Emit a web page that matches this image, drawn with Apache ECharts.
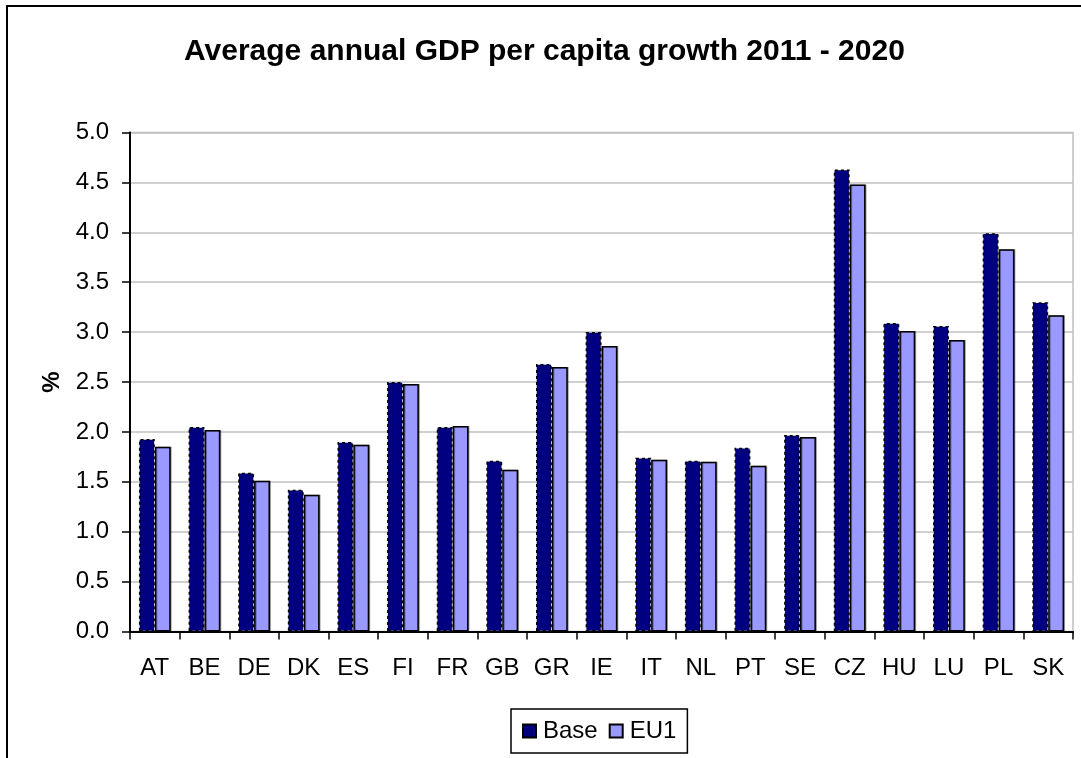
<!DOCTYPE html>
<html>
<head>
<meta charset="utf-8">
<title>Average annual GDP per capita growth 2011 - 2020</title>
<script src="https://cdn.jsdelivr.net/npm/echarts@6/dist/echarts.min.js"></script>
<style>
  html, body { margin: 0; padding: 0; background: #fff; }
  #chart { width: 1081px; height: 758px; }
</style>
</head>
<body>
<div id="chart"></div>
<script>
// Country codes along the category axis
const countries = ['AT', 'BE', 'DE', 'DK', 'ES', 'FI', 'FR', 'GB', 'GR', 'IE',
                   'IT', 'NL', 'PT', 'SE', 'CZ', 'HU', 'LU', 'PL', 'SK'];

// Average annual GDP per capita growth, % (2011-2020)
const baseValues = [1.93, 2.05, 1.59, 1.42, 1.90, 2.50, 2.05, 1.71, 2.68, 3.00,
                    1.74, 1.71, 1.84, 1.97, 4.63, 3.09, 3.06, 3.99, 3.30];
const eu1Values  = [1.85, 2.02, 1.51, 1.37, 1.87, 2.48, 2.06, 1.62, 2.65, 2.86,
                    1.72, 1.70, 1.66, 1.95, 4.48, 3.01, 2.92, 3.83, 3.17];

const FONT = '"Liberation Sans", Arial, sans-serif';

const chart = echarts.init(document.getElementById('chart'), null, { renderer: 'canvas' });

chart.setOption({
  animation: false,
  backgroundColor: '#ffffff',
  title: {
    text: 'Average annual GDP per capita growth 2011 - 2020',
    left: 184,
    top: 37,
    padding: 0,
    textStyle: { fontFamily: FONT, fontSize: 30, fontWeight: 'bold', color: '#000' }
  },
  legend: {
    data: ['Base', 'EU1'],
    left: 511,
    top: 709,
    padding: [10, 11, 10, 11],
    itemWidth: 13,
    itemHeight: 13,
    itemGap: 11,
    icon: 'rect',
    borderColor: '#000',
    borderWidth: 1.5,
    backgroundColor: '#fff',
    textStyle: { fontFamily: FONT, fontSize: 24, color: '#000', padding: [0, 0, 0, 2] }
  },
  grid: {
    left: 130,
    right: 8,
    top: 132.5,
    bottom: 126.5,
    show: true,
    borderColor: '#c0c0c0',
    borderWidth: 1.5,
    backgroundColor: 'transparent'
  },
  xAxis: {
    type: 'category',
    data: countries,
    boundaryGap: true,
    axisLine: { lineStyle: { color: '#000', width: 2 } },
    axisTick: { show: true, length: 8, lineStyle: { color: '#000', width: 1.5 } },
    axisLabel: { fontFamily: FONT, fontSize: 24, color: '#000', margin: 25, interval: 0 },
    splitLine: { show: false }
  },
  yAxis: {
    type: 'value',
    min: 0,
    max: 5,
    interval: 0.5,
    name: '%',
    nameLocation: 'middle',
    nameGap: 64,
    nameRotate: 90,
    nameTextStyle: { fontFamily: FONT, fontSize: 24, fontWeight: 'bold', color: '#000' },
    axisLine: { show: true, lineStyle: { color: '#000', width: 2 } },
    axisTick: { show: true, length: 8, lineStyle: { color: '#000', width: 1.5 } },
    axisLabel: {
      fontFamily: FONT, fontSize: 24, color: '#000', margin: 21,
      formatter: v => v.toFixed(1)
    },
    splitLine: { show: true, lineStyle: { color: '#c0c0c0', width: 1.5 } }
  },
  series: [
    {
      name: 'Base',
      type: 'bar',
      data: baseValues,
      barGap: '0%',
      barCategoryGap: '36%',
      itemStyle: {
        color: '#000080',
        borderColor: '#000',
        borderWidth: 1.5,
        borderType: [3, 3]
      }
    },
    {
      name: 'EU1',
      type: 'bar',
      data: eu1Values,
      barGap: '0%',
      barCategoryGap: '36%',
      itemStyle: {
        color: '#9999ff',
        borderColor: '#000',
        borderWidth: 1.5,
        shadowColor: 'rgba(0,0,0,0.35)',
        shadowOffsetX: 1,
        shadowOffsetY: 0
      }
    }
  ],
  graphic: [
    {
      // outer chart frame (runs off the right and bottom edges)
      type: 'rect',
      silent: true,
      shape: { x: 7, y: 6, width: 1200, height: 900 },
      style: { fill: 'none', stroke: '#000', lineWidth: 2 }
    }
  ]
});
</script>
</body>
</html>
